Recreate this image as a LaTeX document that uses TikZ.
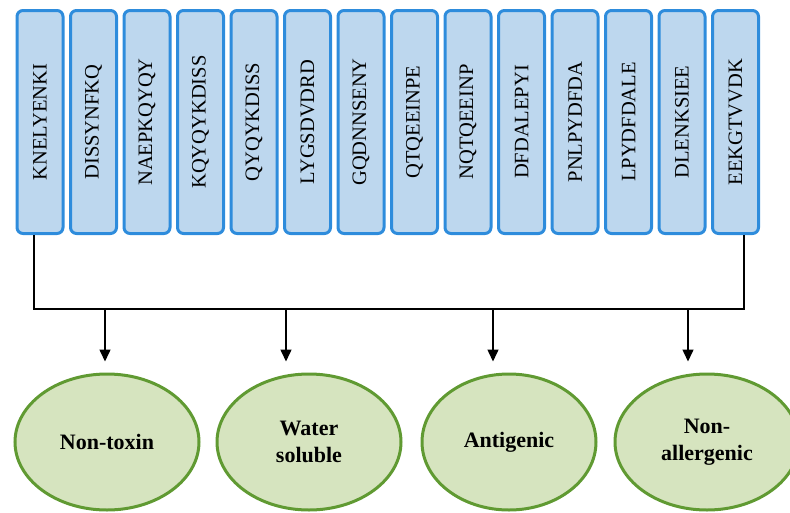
\documentclass[tikz,border=0pt]{standalone}
\usepackage{fontspec}
\setmainfont{Liberation Serif}
\usetikzlibrary{shapes.geometric,arrows.meta}
\definecolor{boxfill}{RGB}{189,215,238}
\definecolor{boxline}{RGB}{46,140,220}
\definecolor{ellfill}{RGB}{214,228,191}
\definecolor{ellline}{RGB}{96,154,50}
\tikzset{
  seqbox/.style={draw=boxline, fill=boxfill, line width=3pt, rounded corners=6pt,
    minimum width=46pt, minimum height=223pt, inner sep=0pt},
  seqtext/.style={rotate=90, font=\fontsize{20.5}{22}\selectfont},
  prop/.style={ellipse, draw=ellline, fill=ellfill, line width=3pt,
    minimum width=184pt, minimum height=136pt, inner sep=0pt, align=center,
    font=\fontsize{22}{27}\selectfont\bfseries},
  bus/.style={line width=1.5pt, draw=black},
  arr/.style={bus, -{Triangle[length=12pt,width=11pt]}},
}
\begin{document}
\begin{tikzpicture}[x=1pt,y=-1pt]
\useasboundingbox (0,0) rectangle (790,512);
\foreach \s [count=\i from 0] in {KNELYENKI,DISSYNFKQ,NAEPKQYQY,KQYQYKDISS,QYQYKDISS,LYGSDVDRD,GQDNNSENY,QTQEEINPE,NQTQEEINP,DFDALEPYI,PNLPYDFDA,LPYDFDALE,DLENKSIEE,EEKGTVVDK}{
  \pgfmathtruncatemacro{\n}{\i+1}
  \node[seqbox] (b\n) at ({40+53.5*\i},122) {};
  \node[seqtext] (t\n) at (b\n.center) {\s};
}
\node[prop] (e1) at (107,442) {Non-toxin};
\node[prop] (e2) at (309,442) {Water\\soluble};
\node[prop, minimum width=174pt] (e3) at (509,442) {Antigenic};
\node[prop] (e4) at (707,442) {Non-\\allergenic};
\coordinate (hR) at (744,309);
\coordinate (c1) at (105,309);
\coordinate (c2) at (286,309);
\coordinate (c3) at (493,309);
\coordinate (c4) at (688,309);
\draw[bus] ([xshift=-6pt]b1.south) |- (hR) -- (hR |- b14.south);
\foreach \k in {1,2,3,4}{
  \draw[arr, shorten >=11pt] (c\k) -- (c\k |- e\k.north);
}
\end{tikzpicture}
\end{document}
